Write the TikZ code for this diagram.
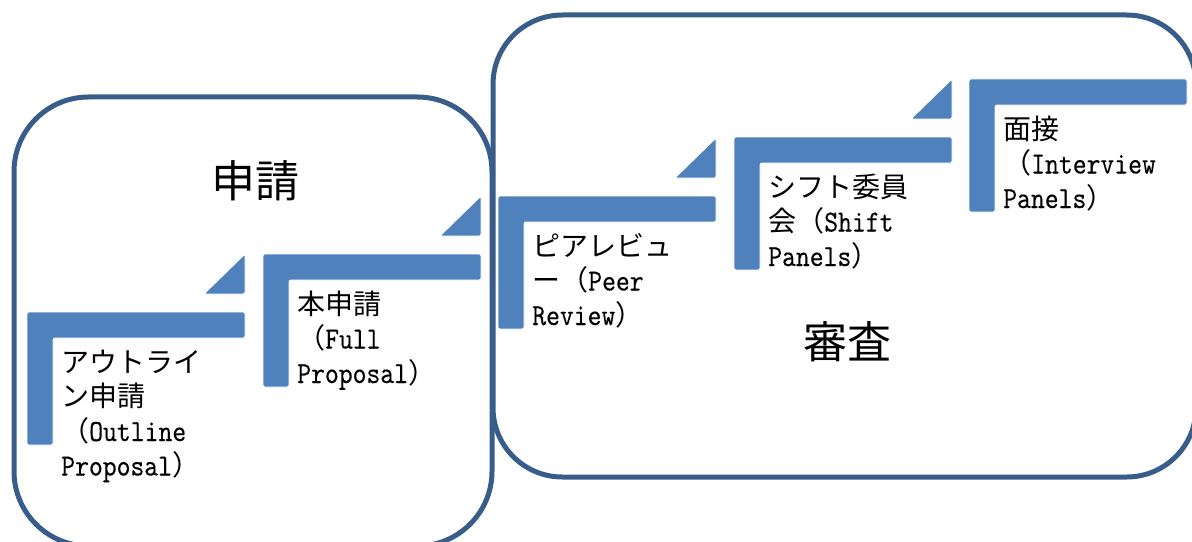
\documentclass[tikz,border=0pt]{standalone}
\usepackage{fontspec}
\newfontfamily\jp{Noto Sans CJK JP}
\newfontfamily\lat{lmmono10-regular.otf}[FakeStretch=0.86,FakeBold=0.2]
\definecolor{stepblue}{RGB}{79,129,189}
\definecolor{framecol}{RGB}{56,93,138}
\begin{document}
\begin{tikzpicture}[x=0.75pt,y=-0.75pt,
  frame/.style={draw=framecol,line width=3.75pt,rounded corners=52pt},
  stepshape/.style={fill=stepblue,draw=white,line width=0.6pt,rounded corners=1.5pt},
  lbl/.style={anchor=base west,inner sep=0pt,font=\lat\fontsize{23}{26}\selectfont},
  title/.style={inner sep=0pt,font=\jp\fontsize{33}{40}\selectfont}]
\useasboundingbox (0,0) rectangle (1192,542);
\clip (0,0) rectangle (1192,542);
% big frames
\draw[frame,rounded corners=56pt] (14,300) -- (14,97) -- (492,97) -- (492,546) -- (14,546) -- cycle;
\draw[frame] (493,250) -- (493,15) -- (1196,15) -- (1196,477) -- (493,477) -- cycle;
\node[title] (t1) at (255,181) {申請};
\node[title] (t2) at (847,342) {審査};
\newcommand{\jf}[1]{{\jp\fontsize{21}{24}\selectfont #1}}
% step 1
\begin{scope}[shift={(27,312)}]
\path[stepshape] (0,0) -- (218,0) -- (218,26) -- (26,26) -- (26,133) -- (0,133) -- cycle;
\path[stepshape] (177,-18) -- (218,-18) -- (218,-58) -- cycle;
\node[lbl] (s1a) at (34,60) {\jf{アウトライ}};
\node[lbl] (s1b) at (34,94.5) {\jf{ン申請}};
\node[lbl] (s1c) at (34,129) {\jf{（}Outline};
\node[lbl] (s1d) at (34,163.5) {Proposal\jf{）}};
\end{scope}
% step 2
\begin{scope}[shift={(263,254)}]
\path[stepshape] (0,0) -- (218,0) -- (218,26) -- (26,26) -- (26,133) -- (0,133) -- cycle;
\path[stepshape] (177,-18) -- (218,-18) -- (218,-58) -- cycle;
\node[lbl] (s2a) at (34,60) {\jf{本申請}};
\node[lbl] (s2b) at (34,94.5) {\jf{（}Full};
\node[lbl] (s2c) at (34,129) {Proposal\jf{）}};
\end{scope}
% step 3
\begin{scope}[shift={(498,196)}]
\path[stepshape] (0,0) -- (218,0) -- (218,26) -- (26,26) -- (26,133) -- (0,133) -- cycle;
\path[stepshape] (177,-18) -- (218,-18) -- (218,-58) -- cycle;
\node[lbl] (s3a) at (34,60) {\jf{ピアレビュ}};
\node[lbl] (s3b) at (34,94.5) {\jf{ー（}Peer};
\node[lbl] (s3c) at (34,129) {Review\jf{）}};
\end{scope}
% step 4
\begin{scope}[shift={(734,137)}]
\path[stepshape] (0,0) -- (218,0) -- (218,26) -- (26,26) -- (26,133) -- (0,133) -- cycle;
\path[stepshape] (177,-18) -- (218,-18) -- (218,-58) -- cycle;
\node[lbl] (s4a) at (34,60) {\jf{シフト委員}};
\node[lbl] (s4b) at (34,94.5) {\jf{会（}Shift};
\node[lbl] (s4c) at (34,129) {Panels\jf{）}};
\end{scope}
% step 5
\begin{scope}[shift={(969,79)}]
\path[stepshape] (0,0) -- (218,0) -- (218,26) -- (26,26) -- (26,133) -- (0,133) -- cycle;
\node[lbl] (s5a) at (34,60) {\jf{面接}};
\node[lbl] (s5b) at (34,94.5) {\jf{（}Interview};
\node[lbl] (s5c) at (34,129) {Panels\jf{）}};
\end{scope}
\end{tikzpicture}
\end{document}
